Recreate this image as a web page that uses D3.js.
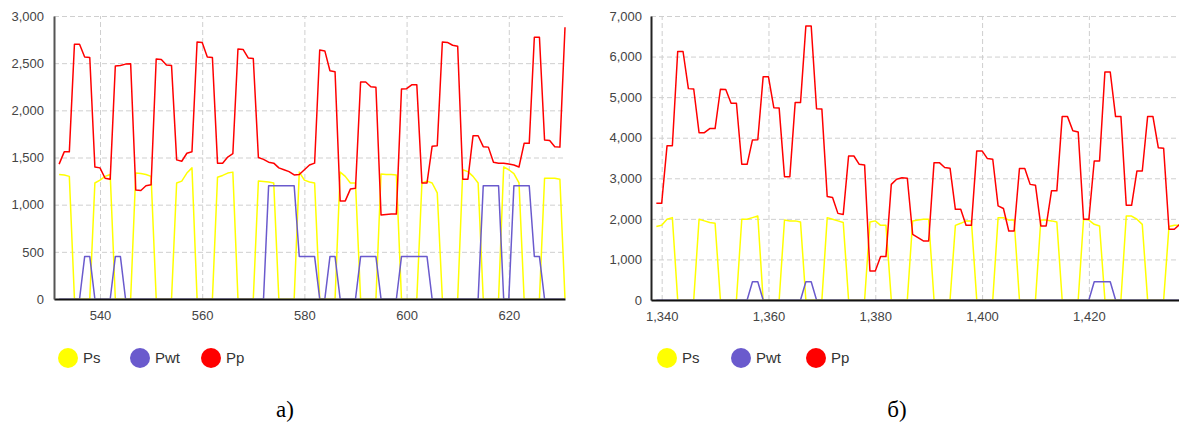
<!DOCTYPE html>
<html>
<head>
<meta charset="utf-8">
<script src="https://cdnjs.cloudflare.com/ajax/libs/d3/7.8.5/d3.min.js"></script>
<style>
body { margin: 0; background: #fff; }
text { font-family: "Liberation Sans", Arial, sans-serif; }
</style>
</head>
<body>
<div id="chart-area"></div>
<script>
// series names and colours (legend order)
var names = ["Ps", "Pwt", "Pp"];
var colors = ["#ffff00", "#6a5acd", "#ff0000"];

// panel a) : steps 532 .. 631
var xA = d3.range(532, 632);
var psA = [1320, 1315, 1300, 0, 0, 0, 0, 1230, 1260, 1300,
  1320, 0, 0, 0, 0, 1335, 1330, 1320, 1300, 0,
  0, 0, 0, 1230, 1250, 1335, 1390, 0, 0, 0,
  0, 1290, 1310, 1335, 1345, 0, 0, 0, 0, 1250,
  1245, 1240, 1230, 0, 0, 0, 0, 1345, 1260, 1240,
  1230, 0, 0, 0, 0, 1345, 1300, 1230, 1230, 0,
  0, 0, 0, 1325, 1320, 1320, 1315, 0, 0, 0,
  0, 1230, 1250, 1230, 1125, 0, 0, 0, 0, 1370,
  1350, 1300, 1230, 0, 0, 0, 0, 1400, 1370, 1330,
  1230, 0, 0, 0, 0, 1280, 1280, 1280, 1270, 0];
var pwtA = [0, 0, 0, 0, 0, 450, 450, 0, 0, 0,
  0, 450, 450, 0, 0, 0, 0, 0, 0, 0,
  0, 0, 0, 0, 0, 0, 0, 0, 0, 0,
  0, 0, 0, 0, 0, 0, 0, 0, 0, 0,
  0, 1200, 1200, 1200, 1200, 1200, 1200, 450, 450, 450,
  450, 0, 0, 450, 450, 0, 0, 0, 0, 450,
  450, 450, 450, 0, 0, 0, 0, 450, 450, 450,
  450, 450, 450, 0, 0, 0, 0, 0, 0, 0,
  0, 0, 0, 1200, 1200, 1200, 1200, 0, 0, 1200,
  1200, 1200, 1200, 450, 450, 0, 0, 0, 0, 0];
var ppA = [1430, 1560, 1560, 2700, 2700, 2565, 2560, 1400, 1390, 1280,
  1270, 2470, 2475, 2490, 2495, 1155, 1150, 1200, 1210, 2545,
  2540, 2480, 2475, 1475, 1460, 1545, 1560, 2725, 2720, 2565,
  2560, 1440, 1440, 1505, 1540, 2650, 2645, 2555, 2550, 1500,
  1480, 1450, 1440, 1390, 1370, 1350, 1315, 1320, 1370, 1420,
  1440, 2640, 2630, 2420, 2410, 1040, 1040, 1165, 1175, 2300,
  2300, 2250, 2245, 890, 895, 900, 900, 2225, 2230, 2270,
  2270, 1230, 1230, 1620, 1625, 2725, 2720, 2690, 2680, 1270,
  1270, 1730, 1730, 1615, 1610, 1450, 1440, 1440, 1430, 1420,
  1400, 1650, 1650, 2775, 2775, 1685, 1680, 1615, 1610, 2880];
var xTicksA = [540, 560, 580, 600, 620];
var yTicksA = [0, 500, 1000, 1500, 2000, 2500, 3000];

// panel б) : steps 1339 .. 1437
var xB = d3.range(1339, 1438);
var psB = [1810, 1840, 1990, 2030, 0, 0, 0, 0, 1990, 1950,
  1910, 1890, 0, 0, 0, 0, 1990, 1990, 2030, 2070,
  0, 0, 0, 0, 1970, 1950, 1950, 1920, 0, 0,
  0, 0, 2030, 1990, 1950, 1910, 0, 0, 0, 0,
  1925, 1950, 1840, 1840, 0, 0, 0, 0, 1950, 1970,
  1990, 1990, 0, 0, 0, 0, 1840, 1890, 1950, 1950,
  0, 0, 0, 0, 2030, 2030, 1970, 1970, 0, 0,
  0, 0, 1970, 1970, 1950, 1920, 0, 0, 0, 0,
  1990, 1970, 1865, 1825, 0, 0, 0, 0, 2070, 2070,
  1990, 1865, 0, 0, 0, 0, 1810, 1840, 1840];
var pwtB = [0, 0, 0, 0, 0, 0, 0, 0, 0, 0,
  0, 0, 0, 0, 0, 0, 0, 0, 450, 450,
  0, 0, 0, 0, 0, 0, 0, 0, 450, 450,
  0, 0, 0, 0, 0, 0, 0, 0, 0, 0,
  0, 0, 0, 0, 0, 0, 0, 0, 0, 0,
  0, 0, 0, 0, 0, 0, 0, 0, 0, 0,
  0, 0, 0, 0, 0, 0, 0, 0, 0, 0,
  0, 0, 0, 0, 0, 0, 0, 0, 0, 0,
  0, 0, 450, 450, 450, 450, 0, 0, 0, 0,
  0, 0, 0, 0, 0, 0, 0, 0, 0];
var ppB = [2385, 2385, 3800, 3800, 6125, 6125, 5210, 5200, 4125, 4125,
  4225, 4225, 5195, 5190, 4850, 4850, 3345, 3345, 3945, 3950,
  5500, 5500, 4740, 4730, 3040, 3040, 4865, 4865, 6755, 6755,
  4715, 4705, 2550, 2525, 2135, 2110, 3550, 3550, 3345, 3330,
  715, 715, 1070, 1070, 2850, 2975, 3015, 3000, 1620, 1540,
  1455, 1455, 3385, 3385, 3265, 3250, 2235, 2235, 1840, 1840,
  3675, 3675, 3485, 3470, 2320, 2255, 1700, 1700, 3240, 3240,
  2850, 2830, 1825, 1825, 2690, 2690, 4520, 4520, 4170, 4140,
  1990, 1990, 3425, 3425, 5620, 5620, 4520, 4520, 2335, 2335,
  3180, 3180, 4520, 4520, 3755, 3740, 1745, 1745, 1865];
var xTicksB = [1340, 1360, 1380, 1400, 1420];
var yTicksB = [0, 1000, 2000, 3000, 4000, 5000, 6000, 7000];

var svg = d3.select("#chart-area").append("svg")
  .attr("width", 1179)
  .attr("height", 425)
  .style("display", "block");

function drawPanel(p) {
  var g = svg.append("g");
  var x = d3.scaleLinear().domain(p.xDomain).range([p.left, p.right]);
  var y = d3.scaleLinear().domain(p.yDomain).range([p.bottom, p.top]);

  // zero-level strokes sit under the axis, so clip just above it
  g.append("clipPath").attr("id", p.id)
    .append("rect")
    .attr("x", p.left)
    .attr("y", p.top - 10)
    .attr("width", p.right - p.left + 2)
    .attr("height", p.bottom - p.top + 9.5);

  // dashed grid
  var gx = g.append("g")
    .attr("transform", "translate(0," + p.bottom + ")")
    .call(d3.axisBottom(x).tickValues(p.xTicks).tickSize(-(p.bottom - p.top)).tickFormat(""));
  var gy = g.append("g")
    .attr("transform", "translate(" + p.left + ",0)")
    .call(d3.axisLeft(y).tickValues(p.yTicks).tickSize(-(p.right - p.left)).tickFormat(""));
  [gx, gy].forEach(function(a) {
    a.select(".domain").remove();
    a.selectAll("line").attr("stroke", "#cfcfcf").attr("stroke-dasharray", "5,3");
  });

  // lines
  var line = d3.line()
    .x(function(d, i) { return x(p.xs[i]); })
    .y(function(d) { return y(d); });
  var lines = g.append("g").attr("clip-path", "url(#" + p.id + ")");
  p.series.forEach(function(s, k) {
    lines.append("path")
      .datum(s)
      .attr("fill", "none")
      .attr("stroke", colors[k])
      .attr("stroke-width", 1.5)
      .attr("stroke-linejoin", "round")
      .attr("d", line);
  });

  // axes
  var fmt = d3.format(",");
  var ax = g.append("g")
    .attr("transform", "translate(0," + p.bottom + ")")
    .call(d3.axisBottom(x).tickValues(p.xTicks).tickSize(0).tickPadding(12).tickFormat(fmt));
  ax.select(".domain").attr("stroke", "#111").attr("stroke-width", 2);
  var ay = g.append("g")
    .attr("transform", "translate(" + p.left + ",0)")
    .call(d3.axisLeft(y).tickValues(p.yTicks).tickSize(0).tickPadding(p.yPad).tickFormat(fmt));
  ay.select(".domain").attr("stroke", p.yAxisColor).attr("stroke-width", 2);
  [ax, ay].forEach(function(a) {
    a.selectAll("text")
      .attr("fill", "#444")
      .style("font-size", "13px")
      .style("font-family", "'Liberation Sans', Arial, sans-serif");
  });

  // legend
  var lg = g.append("g");
  names.forEach(function(n, k) {
    lg.append("circle")
      .attr("cx", p.legendX[k])
      .attr("cy", 358)
      .attr("r", 10)
      .attr("fill", colors[k]);
    lg.append("text")
      .attr("x", p.legendX[k] + 15)
      .attr("y", 363)
      .attr("fill", "#333")
      .style("font-size", "15px")
      .text(n);
  });

  // caption
  g.append("text")
    .attr("x", p.captionX)
    .attr("y", 417)
    .attr("text-anchor", "middle")
    .attr("fill", "#000")
    .style("font-family", "'Liberation Serif', 'Times New Roman', serif")
    .style("font-size", "23px")
    .text(p.caption);
}

drawPanel({
  id: "clipA",
  xs: xA, series: [psA, pwtA, ppA],
  xDomain: [531, 631], yDomain: [0, 3000],
  xTicks: xTicksA, yTicks: yTicksA,
  left: 54, right: 565, top: 16, bottom: 299,
  yPad: 10, yAxisColor: "#555",
  legendX: [68, 140, 211], captionX: 285, caption: "а)"
});

drawPanel({
  id: "clipB",
  xs: xB, series: [psB, pwtB, ppB],
  xDomain: [1338, 1438], yDomain: [0, 7000],
  xTicks: xTicksB, yTicks: yTicksB,
  left: 651, right: 1185, top: 16, bottom: 300,
  yPad: 9, yAxisColor: "#222",
  legendX: [667, 741, 816], captionX: 897, caption: "б)"
});
</script>
</body>
</html>
